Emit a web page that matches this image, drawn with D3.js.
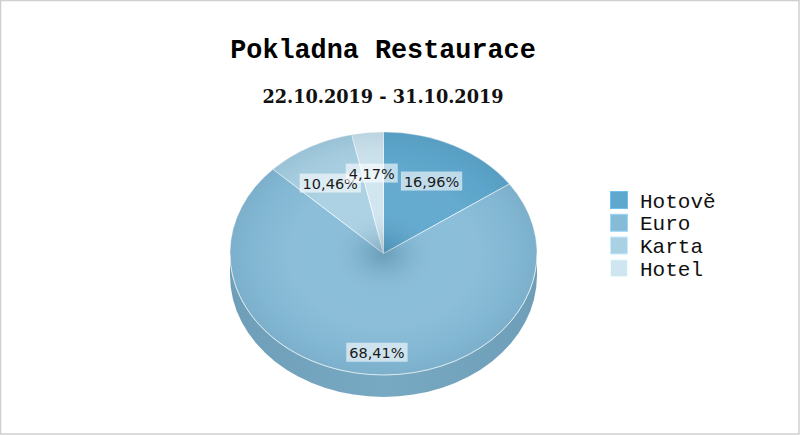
<!DOCTYPE html>
<html><head><meta charset="utf-8">
<script src="https://cdn.jsdelivr.net/npm/d3@7"></script>
<style>body{margin:0;background:#fff}svg{display:block}</style>
</head><body><svg id="c" width="800" height="435"></svg>
<script>
const title = "Pokladna Restaurace";
const subtitle = "22.10.2019 - 31.10.2019";
const categories = ["Hotově", "Euro", "Karta", "Hotel"];
const values = [16.96, 68.41, 10.46, 4.17];
const valueLabels = ["16,96%", "68,41%", "10,46%", "4,17%"];
const colors = ["#5ea7cd", "#86bbd7", "#a9d0e3", "#cfe5ef"];

(function () {
const W = 800, H = 435;
const cx = 383.5, cy = 253.5, rx = 153.5, ry = 121.5, depth = 22;
const svg = d3.select("#c");
const defs = svg.append("defs");

svg.append("rect").attr("width", W).attr("height", H).attr("fill", "#fff");
svg.append("rect").attr("x", 0.5).attr("y", 0.5).attr("width", W - 1.5).attr("height", H - 1.5)
  .attr("fill", "none").attr("stroke", "#cfcfcf").attr("stroke-width", 1.5);

svg.append("text").attr("x", 383).attr("y", 58).attr("text-anchor", "middle")
  .attr("font-family", "Liberation Mono, monospace").attr("font-weight", "bold")
  .attr("font-size", 26.8).attr("fill", "#000").text(title);
svg.append("text").attr("x", 383).attr("y", 103).attr("text-anchor", "middle")
  .attr("font-family", "DejaVu Serif, serif").attr("font-weight", "bold")
  .attr("font-size", 17.7).attr("fill", "#111").text(subtitle);

const pie = d3.pie().sort(null).value(d => d)(values);
function toT(theta) {
  let t = Math.atan2(ry * Math.sin(theta), rx * Math.cos(theta));
  while (t < theta - Math.PI) t += 2 * Math.PI;
  return t;
}

const sg = defs.append("linearGradient").attr("id", "side").attr("x1", 0).attr("x2", 1).attr("y1", 0).attr("y2", 0);
sg.append("stop").attr("offset", 0).attr("stop-color", "#6f9fb8");
sg.append("stop").attr("offset", 0.5).attr("stop-color", "#78a9c2");
sg.append("stop").attr("offset", 1).attr("stop-color", "#6f9fb8");
const sidePath = `M${cx + rx},${cy} L${cx + rx},${cy + depth} A${rx},${ry} 0 0 1 ${cx - rx},${cy + depth} L${cx - rx},${cy} A${rx},${ry} 0 0 0 ${cx + rx},${cy} Z`;
svg.append("path").attr("d", sidePath).attr("fill", "url(#side)");

const arc = d3.arc().innerRadius(0).outerRadius(rx)
  .startAngle(d => toT(d.startAngle)).endAngle(d => toT(d.endAngle));
const face = svg.append("g").attr("transform", `translate(${cx},${cy}) scale(1,${ry / rx})`);
face.selectAll("path.slice").data(pie).join("path").attr("class", "slice")
  .attr("d", arc).attr("fill", (d, i) => colors[i]);

const rg = defs.append("radialGradient").attr("id", "shade");
[[0, "#2c5a72", 0.3], [0.12, "#2c5a72", 0.13], [0.35, "#ffffff", 0.04], [0.6, "#ffffff", 0.05], [0.85, "#2c5a72", 0.04], [1, "#2c5a72", 0.12]]
  .forEach(s => rg.append("stop").attr("offset", s[0]).attr("stop-color", s[1]).attr("stop-opacity", s[2]));
svg.append("ellipse").attr("cx", cx).attr("cy", cy).attr("rx", rx).attr("ry", ry).attr("fill", "url(#shade)");

face.selectAll("path.edge").data(pie).join("path").attr("class", "edge")
  .attr("d", arc).attr("fill", "none").attr("stroke", "#ffffff").attr("stroke-opacity", 0.45)
  .attr("stroke-width", 1).attr("vector-effect", "non-scaling-stroke");

svg.append("path").attr("d", `M${cx - rx},${cy} A${rx},${ry} 0 0 0 ${cx + rx},${cy}`)
  .attr("fill", "none").attr("stroke", "#ffffff").attr("stroke-opacity", 0.45).attr("stroke-width", 1);

const k = 0.74, lblOff = 9;
const lg = svg.append("g");
pie.forEach((d, i) => {
  const t = toT((d.startAngle + d.endAngle) / 2);
  const x = cx + k * rx * Math.sin(t), y = cy - k * ry * Math.cos(t) + lblOff;
  const g = lg.append("g");
  const rect = g.append("rect").attr("fill", "#ffffff").attr("fill-opacity", 0.6);
  const txt = g.append("text").attr("x", x).attr("y", y + 5.5).attr("text-anchor", "middle")
    .attr("font-family", "DejaVu Sans, Verdana, sans-serif").attr("font-size", 14.5)
    .attr("fill", "#1a1a1a").text(valueLabels[i]);
  const w = txt.node().getComputedTextLength() + 6;
  rect.attr("x", x - w / 2).attr("y", y - 9.5).attr("width", w).attr("height", 19);
});

const yRow = d3.scaleBand().domain(categories).range([190, 281]);
const leg = svg.append("g");
categories.forEach((c, i) => {
  const y = yRow(c);
  leg.append("rect").attr("x", 610.5).attr("y", y + 1.5).attr("width", 17).attr("height", 17)
    .attr("fill", colors[i]).attr("stroke", d3.color(colors[i]).brighter(0.4)).attr("stroke-width", 1);
  leg.append("text").attr("x", 640).attr("y", y + 17.5).attr("font-family", "Liberation Mono, monospace")
    .attr("font-size", 21).attr("fill", "#111").text(c);
});
})();
</script></body></html>
